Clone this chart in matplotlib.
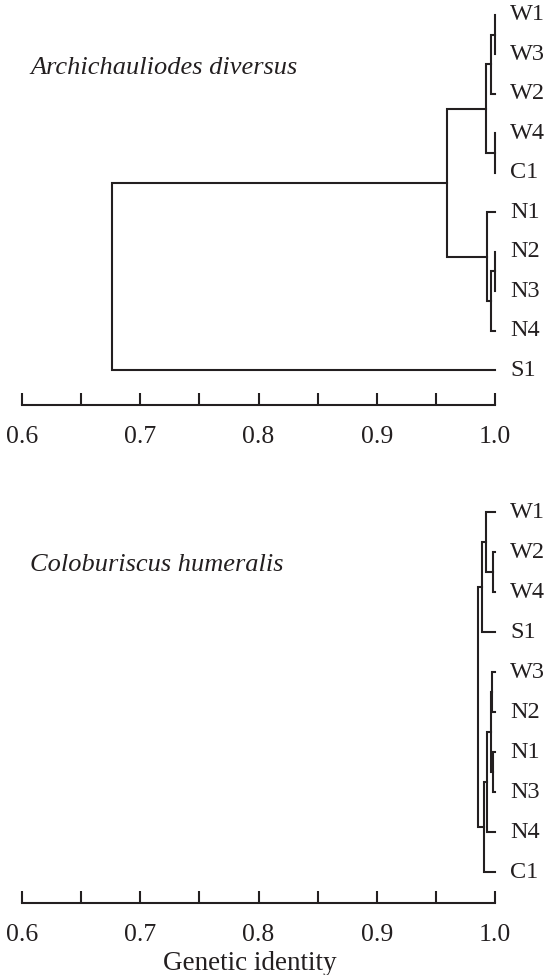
import matplotlib
matplotlib.use('Agg')
import matplotlib.pyplot as plt
import numpy as np

# leaf order (top to bottom) and merges as (child_a, child_b, identity)
# children < 10 are leaves, >= 10 are earlier merges (scipy style)
top_title = 'Archichauliodes diversus'
top_leaves = ['W1', 'W3', 'W2', 'W4', 'C1', 'N1', 'N2', 'N3', 'N4', 'S1']
top_merges = [
    (0, 1, 1.0),
    (10, 2, 0.9966),
    (3, 4, 1.0),
    (11, 12, 0.9924),
    (6, 7, 1.0),
    (14, 8, 0.9966),
    (5, 15, 0.993),
    (13, 16, 0.959),
    (17, 9, 0.676),
]

bottom_title = 'Coloburiscus humeralis'
bottom_leaves = ['W1', 'W2', 'W4', 'S1', 'W3', 'N2', 'N1', 'N3', 'N4', 'C1']
bottom_merges = [
    (1, 2, 0.998),
    (0, 10, 0.9924),
    (11, 3, 0.989),
    (4, 5, 0.9975),
    (6, 7, 0.998),
    (13, 14, 0.9963),
    (15, 8, 0.9935),
    (16, 9, 0.9907),
    (12, 17, 0.9854),
]

x_ticks = [0.6, 0.65, 0.7, 0.75, 0.8, 0.85, 0.9, 0.95, 1.0]
x_labels = ['0.6', '', '0.7', '', '0.8', '', '0.9', '', '1.0']

INK = '#231f20'
W, H = 550, 975

plt.rcParams['font.family'] = ['Liberation Serif', 'DejaVu Serif']


def draw_tree(ax, leaves, merges):
    n = len(leaves)
    pos = {i: (1.0, float(i)) for i in range(n)}
    for k, (a, b, h) in enumerate(merges):
        xa, ya = pos[a]
        xb, yb = pos[b]
        ax.plot([xa, h, h, xb], [ya, ya, yb, yb], color=INK, lw=1.5,
                solid_joinstyle='miter', clip_on=False)
        pos[n + k] = (h, (ya + yb) / 2)
    for i, lab in enumerate(leaves):
        ax.annotate(lab, (1.0, i), xytext=(15, 0), textcoords='offset pixels',
                    ha='left', va='center', fontsize=17.5, color=INK,
                    annotation_clip=False)


def make_panel(fig, top_px, first_leaf_px, last_leaf_px, axis_px, leaves, merges):
    x0, x1 = 22, 495
    step = (last_leaf_px - first_leaf_px) / (len(leaves) - 1)
    ax = fig.add_axes([x0 / W, 1 - axis_px / H, (x1 - x0) / W, (axis_px - top_px) / H])
    draw_tree(ax, leaves, merges)
    ax.set_xlim(0.6, 1.0)
    ax.set_ylim((axis_px - first_leaf_px) / step, (top_px - first_leaf_px) / step)
    for s in ['top', 'left', 'right']:
        ax.spines[s].set_visible(False)
    ax.spines['bottom'].set_color(INK)
    ax.spines['bottom'].set_linewidth(1.5)
    ax.set_yticks([])
    ax.set_xticks(x_ticks)
    ax.set_xticklabels(x_labels)
    ax.tick_params(axis='x', direction='in', length=9, width=1.5, color=INK,
                   labelsize=18.5, labelcolor=INK, pad=15)
    ax.patch.set_visible(False)
    return ax


fig = plt.figure(figsize=(W / 100, H / 100), dpi=100)

make_panel(fig, 0, 15, 370, 405, top_leaves, top_merges)
make_panel(fig, 480, 512, 872, 903, bottom_leaves, bottom_merges)

fig.text(30 / W, 1 - 68 / H, top_title, ha='left', va='center',
         fontsize=19, style='italic', color=INK)
fig.text(30 / W, 1 - 565 / H, bottom_title, ha='left', va='center',
         fontsize=19, style='italic', color=INK)
fig.text(250 / W, 1 - 964 / H, 'Genetic identity', ha='center', va='center',
         fontsize=19.5, color=INK)

fig.savefig('out.png', dpi=100)
